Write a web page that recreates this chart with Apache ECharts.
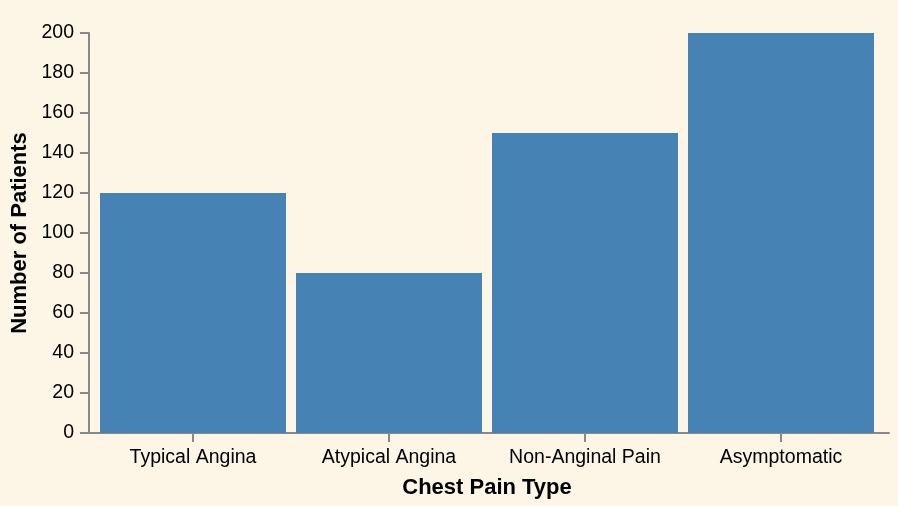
<!DOCTYPE html>
<html>
<head>
<meta charset="utf-8">
<script src="https://cdn.jsdelivr.net/npm/echarts@6/dist/echarts.min.js"></script>
<style>
html,body{margin:0;padding:0;background:#fdf5e6;}
#chart{width:898px;height:506px;}
</style>
</head>
<body>
<div id="chart"></div>
<script>
const categories = ["Typical Angina", "Atypical Angina", "Non-Anginal Pain", "Asymptomatic"];
const patientCounts = [120, 80, 150, 200];
const yTicks = { min: 0, max: 200, interval: 20 };

const FONT = "'Liberation Sans', Arial, Helvetica, sans-serif";
const AXIS_COLOR = "#888888";

const chart = echarts.init(document.getElementById('chart'), null, { renderer: 'canvas' });
chart.setOption({
  backgroundColor: '#fdf5e6',
  animation: false,
  grid: [
    { left: 95, right: 19, top: 33, bottom: 73, containLabel: false },
    { left: 89, right: 9, top: 33, bottom: 73, containLabel: false }
  ],
  xAxis: [
    {
      type: 'category',
      gridIndex: 0,
      data: categories,
      boundaryGap: true,
      axisLine: { show: false },
      axisTick: { show: true, alignWithLabel: true, length: 9, lineStyle: { color: AXIS_COLOR, width: 2 } },
      axisLabel: { color: '#000', fontFamily: FONT, fontSize: 19.5, margin: 15, interval: 0 },
      name: 'Chest Pain Type',
      nameLocation: 'middle',
      nameGap: 44,
      nameTextStyle: { color: '#000', fontFamily: FONT, fontSize: 22, fontWeight: 'bold' }
    },
    {
      type: 'value',
      gridIndex: 1,
      min: 0, max: 1,
      axisLine: { show: true, lineStyle: { color: AXIS_COLOR, width: 2 } },
      axisTick: { show: false },
      axisLabel: { show: false },
      splitLine: { show: false }
    }
  ],
  yAxis: [
    {
      type: 'value',
      gridIndex: 0,
      min: yTicks.min,
      max: yTicks.max,
      interval: yTicks.interval,
      offset: 6,
      axisLine: { show: true, lineStyle: { color: AXIS_COLOR, width: 2 } },
      axisTick: { show: true, length: 9, lineStyle: { color: AXIS_COLOR, width: 2 } },
      axisLabel: { color: '#000', fontFamily: FONT, fontSize: 19.5, margin: 15 },
      splitLine: { show: false },
      name: 'Number of Patients',
      nameLocation: 'middle',
      nameGap: 55,
      nameTextStyle: { color: '#000', fontFamily: FONT, fontSize: 22, fontWeight: 'bold' }
    },
    {
      type: 'value',
      gridIndex: 1,
      show: false,
      min: 0, max: 1
    }
  ],
  series: [
    {
      type: 'bar',
      xAxisIndex: 0,
      yAxisIndex: 0,
      data: patientCounts,
      barWidth: 186,
      itemStyle: { color: '#4682b4' }
    }
  ]
});
</script>
</body>
</html>
